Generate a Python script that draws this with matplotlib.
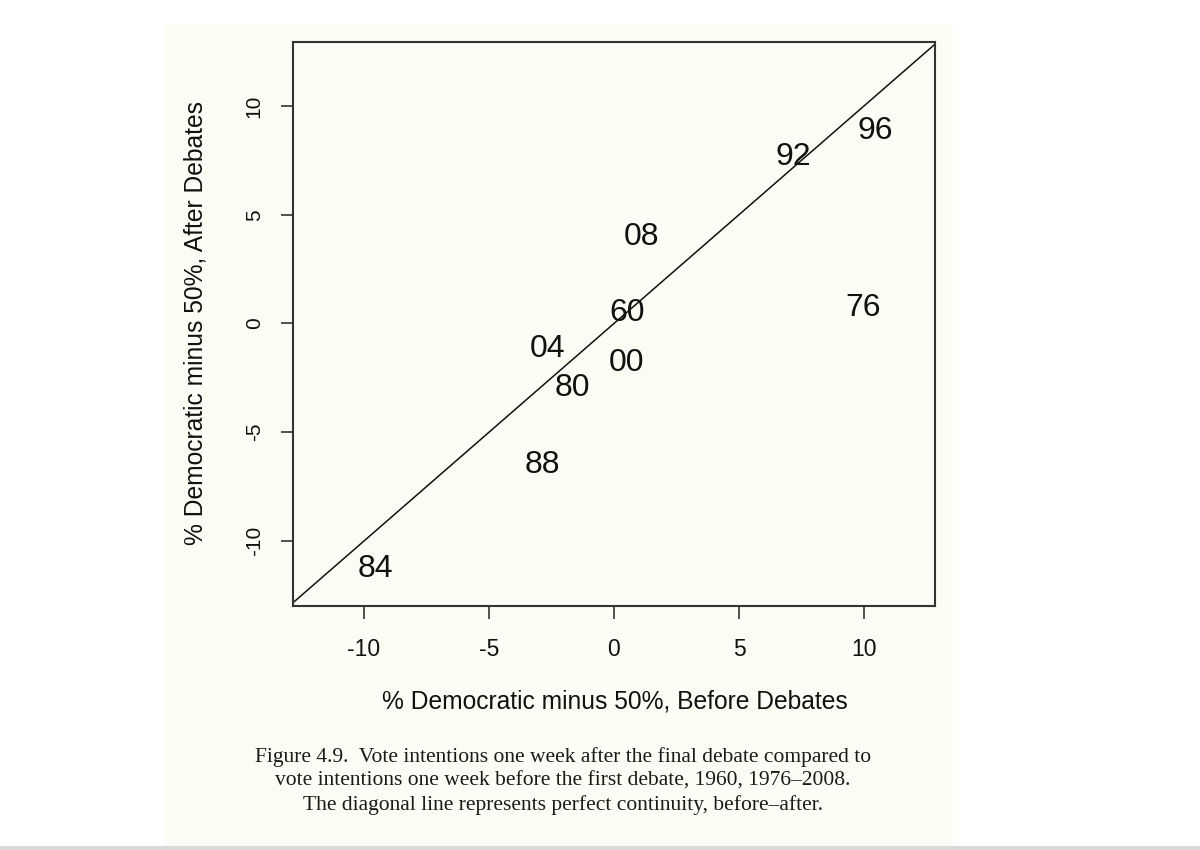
import matplotlib
matplotlib.use("Agg")
import matplotlib.pyplot as plt
from matplotlib.patches import Rectangle

# Data: election year labels, % Democratic minus 50% before / after debates
years = ['84', '88', '80', '04', '60', '00', '08', '92', '96', '76']
before = [-9.56, -2.88, -1.68, -2.64, 0.52, 0.52, 1.11, 7.16, 10.44, 9.98]
after = [-11.29, -6.51, -2.97, -1.17, 0.48, -1.82, 3.99, 7.66, 8.83, 0.71]
ticks = [-10, -5, 0, 5, 10]
tick_labels = ['-10', '-5', '0', '5', '10']

xlabel = '% Democratic minus 50%, Before Debates'
ylabel = '% Democratic minus 50%, After Debates'
caption = ['Figure 4.9.  Vote intentions one week after the final debate compared to',
           'vote intentions one week before the first debate, 1960, 1976\u20132008.',
           'The diagonal line represents perfect continuity, before\u2013after.']

plt.rcParams['font.family'] = ['Liberation Sans', 'DejaVu Sans']
W, H = 1200, 850
fig = plt.figure(figsize=(12, 8.5), dpi=100)
fig.patch.set_facecolor('white')
page = '#fcfcf4'
fig.patches.append(Rectangle((165 / W, 1 - 846 / H), (953 - 165) / W, (846 - 25) / H,
                             transform=fig.transFigure, facecolor=page, edgecolor='none', zorder=-10))
fig.patches.append(Rectangle((0, 0), 1, 1 - 846 / H, transform=fig.transFigure,
                             facecolor='#d9d9d9', edgecolor='none', zorder=-10))

ax = fig.add_axes([293 / W, 1 - 606 / H, (935 - 293) / W, (606 - 42) / H])
ax.set_zorder(5)
ax.set_facecolor(page)
ax.set_xlim(-12.84, 12.84)
ax.set_ylim(-12.99, 12.94)
ax.axline((0, 0), slope=1, color='#111111', lw=1.1)
for yr, xb, ya in zip(years, before, after):
    ax.text(xb, ya, yr, ha='center', va='center', fontsize=23, color='#111111')

ax.set_xticks(ticks)
ax.set_xticklabels(tick_labels)
ax.set_yticks(ticks)
ax.set_yticklabels(tick_labels, rotation=90, va='center')
ax.tick_params(axis='both', direction='out', length=9, width=1.2, color='#333333',
               labelcolor='#111111')
ax.tick_params(axis='x', pad=14, labelsize=16.5)
ax.tick_params(axis='y', pad=12, labelsize=15)
for s in ax.spines.values():
    s.set_color('#333333')
    s.set_linewidth(1.5)

fig.text(615 / W, 1 - 702 / H, xlabel, ha='center', va='center', fontsize=17.7, color='#111111')
fig.text(196 / W, 1 - 323 / H, ylabel, ha='center', va='center', rotation=90,
         fontsize=17.7, color='#111111')
for i, line in enumerate(caption):
    fig.text(563 / W, 1 - (757 + 24 * i) / H, line, ha='center', va='center',
             fontsize=15.5, family=['Liberation Serif', 'DejaVu Serif'], color='#1a1a1a')

fig.savefig('out.png', dpi=100, facecolor=fig.get_facecolor())
